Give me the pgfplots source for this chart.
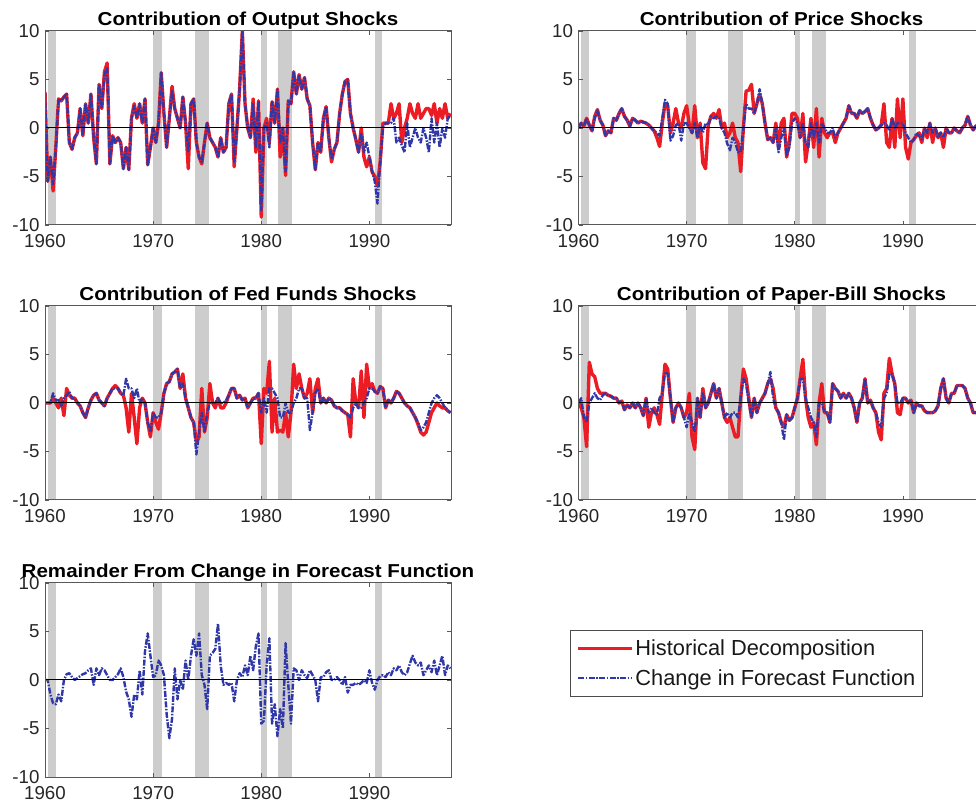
\documentclass[border=0pt]{standalone}
\usepackage{pgfplots}
\pgfplotsset{compat=1.18}
\usepackage{fontspec}
\setmainfont{Liberation Sans}
\newfontfamily\titlefamily{Liberation Sans}[FakeStretch=1.1]
\newcommand\tickfnt{\fontsize{18.7bp}{20bp}\selectfont}
\newcommand\titlefnt{\titlefamily\bfseries\fontsize{18.7bp}{20bp}\selectfont}
\newcommand\legfnt{\fontsize{21.8bp}{24bp}\selectfont}
\definecolor{hred}{RGB}{236,28,36}
\definecolor{fblue}{RGB}{48,56,168}
\definecolor{recess}{RGB}{205,205,205}
\pgfplotsset{
  hist/.style={hred, line width=3.4bp, line join=round},
  fore/.style={fblue, line width=2.4bp, line join=round, dash pattern=on 6bp off 1.5bp on 1.5bp off 1.5bp},
  myaxis/.style={width=406bp, height=194bp, scale only axis,
    xmin=1960, xmax=1997.55, ymin=-10, ymax=10,
    xtick={1960,1970,1980,1990}, xticklabels={1960,1970,1980,1990},
    ytick={-10,-5,0,5,10}, yticklabels={-10,-5,0,5,10},
    tick align=inside, tick pos=both, major tick length=4bp,
    tick style={black!65, line width=0.7bp},
    axis line style={black!65, line width=1bp},
    ticklabel style={font=\tickfnt, text=black!85},
    yticklabel style={xshift=-2bp},
    xticklabel style={yshift=-6bp},
    every axis title shift=0pt,
    title style={font=\titlefnt, at={(0.5,1)}, anchor=base, yshift=5.5bp},
    axis on top},
  rec/.style={fill=recess, draw=none, forget plot},
  zline/.style={black, line width=1bp, forget plot}
}
\newcommand\recessions{%
  \addplot[rec] coordinates {(1960.25,-10)(1961.0,-10)(1961.0,10)(1960.25,10)} -- cycle;
  \addplot[rec] coordinates {(1969.95,-10)(1970.85,-10)(1970.85,10)(1969.95,10)} -- cycle;
  \addplot[rec] coordinates {(1973.85,-10)(1975.2,-10)(1975.2,10)(1973.85,10)} -- cycle;
  \addplot[rec] coordinates {(1980.0,-10)(1980.5,-10)(1980.5,10)(1980.0,10)} -- cycle;
  \addplot[rec] coordinates {(1981.55,-10)(1982.85,-10)(1982.85,10)(1981.55,10)} -- cycle;
  \addplot[rec] coordinates {(1990.55,-10)(1991.2,-10)(1991.2,10)(1990.55,10)} -- cycle;
}
\begin{document}
\begin{tikzpicture}
\path[use as bounding box] (0,0) rectangle (976bp,808bp);
\clip (0,0) rectangle (976bp,808bp);

% Panel 1
\begin{axis}[myaxis, at={(45bp,583bp)}, anchor=south west, title={Contribution of Output Shocks}]
\recessions
\addplot[hist, forget plot] table[x expr=1960+0.25*\coordindex, y index=0, header=false, row sep=\\] {
3.7\\-5.5\\-3.0\\-6.5\\ -2.0\\3.0\\2.8\\3.2\\ 3.5\\-1.5\\-2.2\\-1.0\\ -0.5\\2.0\\-0.8\\2.5\\ 0.5\\3.5\\-1.0\\-3.7\\ 4.5\\2.0\\5.8\\6.7\\ -3.7\\-0.8\\-1.5\\-1.0\\ -1.5\\-4.2\\-2.0\\-4.3\\ 1.0\\2.5\\1.0\\2.5\\ 0.5\\3.0\\-3.8\\-2.0\\ 0.0\\-1.5\\0.5\\5.7\\ 1.5\\-2.0\\1.0\\4.3\\ 2.0\\1.0\\0.0\\3.2\\ 0.5\\-4.2\\2.5\\3.0\\ -1.5\\-3.0\\-3.7\\-1.5\\ 0.5\\-1.0\\-1.5\\-2.0\\ -3.0\\-1.0\\-2.5\\-2.0\\ 2.5\\3.5\\-4.0\\0.0\\ 4.0\\10.0\\2.5\\0.0\\ -1.0\\3.0\\-2.5\\2.8\\ -9.2\\0.0\\1.0\\-1.5\\ 2.7\\0.5\\4.0\\-3.0\\ 0.0\\-4.9\\2.8\\2.5\\ 5.8\\3.5\\5.5\\4.0\\ 5.2\\3.0\\2.3\\-1.5\\ -4.3\\-1.5\\-2.5\\1.0\\ 2.2\\-1.0\\-3.5\\-2.2\\ -1.5\\1.5\\3.5\\4.8\\ 5.0\\1.5\\0.0\\-1.2\\ -2.5\\0.0\\-3.0\\-4.0\\ -3.0\\-4.5\\-5.0\\-6.0\\ -3.5\\0.5\\0.5\\0.5\\ 2.5\\1.0\\1.5\\2.5\\ -1.5\\0.0\\1.0\\2.5\\ 1.5\\1.0\\2.5\\1.0\\ 1.5\\2.0\\2.0\\1.3\\ 2.5\\0.5\\2.0\\1.0\\ 2.5\\1.0\\1.5\\
};
\addplot[fore, forget plot] table[x expr=1960+0.25*\coordindex, y index=0, header=false, row sep=\\] {
3.7\\-5.5\\-3.0\\-5.8\\ -2.0\\3.0\\2.8\\3.2\\ 3.5\\-1.5\\-2.2\\-1.0\\ -0.5\\2.0\\-0.8\\2.5\\ 0.5\\3.5\\-1.0\\-3.7\\ 4.5\\2.0\\5.5\\6.3\\ -3.7\\-0.8\\-1.5\\-1.0\\ -1.5\\-4.2\\-2.0\\-4.3\\ 1.0\\2.3\\1.0\\2.5\\ 0.5\\3.0\\-3.8\\-2.0\\ 0.0\\-1.5\\0.5\\5.7\\ 1.5\\-2.0\\1.0\\3.8\\ 2.0\\1.0\\0.0\\3.2\\ 0.5\\-2.5\\2.5\\3.0\\ -1.5\\-3.0\\-3.5\\-1.5\\ 0.5\\-1.0\\-1.5\\-2.0\\ -3.0\\-1.0\\-2.5\\-2.0\\ 2.5\\3.5\\-3.5\\0.0\\ 4.0\\10.0\\2.5\\0.0\\ -1.0\\2.5\\-2.0\\2.8\\ -8.5\\0.0\\0.5\\-2.0\\ 2.7\\0.5\\4.0\\-1.5\\ 0.0\\-4.5\\2.8\\2.5\\ 5.8\\3.5\\5.5\\4.0\\ 5.2\\3.0\\2.3\\-1.5\\ -4.3\\-1.5\\-2.5\\1.0\\ 2.2\\-1.0\\-3.2\\-2.2\\ -1.5\\1.5\\3.5\\4.8\\ 5.0\\1.5\\0.0\\-1.2\\ -2.5\\-0.5\\-2.5\\-1.5\\ -3.0\\-4.5\\-5.5\\-7.8\\ -3.5\\0.0\\0.5\\0.5\\ 0.5\\1.0\\-1.5\\-1.0\\ -1.8\\-2.5\\0.5\\-2.0\\ -1.0\\0.0\\-1.0\\-1.5\\ 0.0\\-1.0\\-2.5\\1.0\\ -1.5\\0.5\\-2.0\\0.0\\ -1.0\\1.0\\1.3\\
};
\addplot[zline] coordinates {(1960,0)(1997.55,0)};
\end{axis}

% Panel 2
\begin{axis}[myaxis, at={(578.5bp,583bp)}, anchor=south west, title={Contribution of Price Shocks}]
\recessions
\addplot[hist, forget plot] table[x expr=1960+0.25*\coordindex, y index=0, header=false, row sep=\\] {
0.0\\0.5\\0.2\\1.0\\ 0.3\\-0.3\\1.2\\1.9\\ 0.8\\0.3\\-0.8\\-0.3\\ -0.5\\1.0\\0.8\\1.5\\ 2.0\\1.2\\0.8\\0.2\\ 1.0\\0.8\\0.5\\0.7\\ 0.6\\0.5\\0.3\\0.0\\ -0.3\\-1.0\\-1.9\\0.5\\ 2.5\\2.3\\-0.5\\0.5\\ 2.0\\0.5\\0.0\\1.5\\ 2.3\\0.3\\-0.5\\2.3\\ -1.0\\0.5\\-3.6\\-4.2\\ 0.3\\1.2\\1.5\\1.0\\ 1.9\\0.0\\0.5\\-1.0\\ -0.5\\0.5\\-1.0\\-1.5\\ -4.5\\0.0\\3.8\\3.9\\ 4.5\\1.5\\2.5\\3.5\\ 2.5\\0.5\\-1.2\\-1.0\\ -1.5\\0.5\\-2.0\\0.5\\ 1.0\\-3.0\\-1.5\\1.5\\ 1.5\\1.0\\-1.0\\1.5\\ -3.5\\-1.5\\1.0\\-2.0\\ 2.0\\-3.0\\1.0\\-0.5\\ -1.0\\-0.5\\-0.5\\-1.5\\ -0.5\\0.0\\0.5\\1.0\\ 2.3\\1.5\\1.5\\1.0\\ 1.8\\1.5\\1.7\\2.0\\ 1.0\\0.3\\-0.2\\0.0\\ 0.3\\2.5\\-1.5\\-2.0\\ 1.0\\-2.0\\3.0\\-1.0\\ 3.0\\-2.0\\-3.2\\-1.5\\ -1.2\\-0.8\\-0.5\\-1.5\\ 0.0\\-1.0\\0.5\\-1.5\\ 0.0\\-1.0\\-0.5\\-2.0\\ 0.0\\-0.5\\-0.5\\0.0\\ -0.3\\-0.5\\0.0\\0.3\\ 1.2\\0.3\\-0.2\\0.2\\ 0.3\\0.5\\0.3\\
};
\addplot[fore, forget plot] table[x expr=1960+0.25*\coordindex, y index=0, header=false, row sep=\\] {
0.0\\0.5\\0.2\\1.0\\ 0.3\\-0.3\\1.0\\1.8\\ 0.8\\0.3\\-0.8\\-0.3\\ -0.5\\1.0\\0.8\\1.5\\ 2.0\\1.2\\0.8\\0.2\\ 1.0\\0.8\\0.5\\0.7\\ 0.6\\0.5\\0.3\\0.0\\ -0.3\\-0.5\\-0.8\\1.0\\ 2.9\\2.5\\-1.3\\-0.8\\ 0.3\\0.5\\-1.3\\0.5\\ 0.5\\0.0\\-0.5\\0.5\\ -1.0\\0.3\\-0.5\\0.5\\ 0.3\\1.2\\1.0\\1.2\\ 1.0\\0.0\\-0.5\\-1.6\\ -2.3\\-1.0\\-1.5\\-2.5\\ -2.5\\0.0\\2.5\\2.0\\ 2.0\\1.5\\2.5\\4.0\\ 2.5\\0.5\\-1.2\\-1.0\\ -1.5\\0.0\\-2.5\\-1.0\\ 0.0\\-2.8\\-2.0\\0.5\\ 1.0\\0.5\\-1.0\\0.5\\ -1.5\\-2.0\\0.5\\-1.0\\ 0.5\\-1.5\\0.5\\0.0\\ -0.5\\-0.5\\0.0\\-1.0\\ -0.5\\0.0\\0.5\\1.0\\ 2.3\\1.5\\1.5\\1.0\\ 1.8\\1.5\\1.7\\2.0\\ 1.0\\0.3\\-0.2\\0.0\\ 0.3\\0.5\\0.3\\-0.3\\ 1.0\\0.0\\0.5\\0.5\\ 0.5\\-0.5\\-1.0\\-1.5\\ -1.2\\-0.5\\-0.8\\-1.2\\ 0.0\\-0.5\\0.5\\-0.5\\ 0.0\\-1.0\\-0.5\\-1.0\\ 0.0\\-0.5\\-0.5\\0.0\\ -0.3\\-0.5\\0.0\\0.3\\ 1.2\\0.3\\-0.2\\0.2\\ 0.3\\0.5\\0.3\\
};
\addplot[zline] coordinates {(1960,0)(1997.55,0)};
\end{axis}

% Panel 3
\begin{axis}[myaxis, at={(45bp,308bp)}, anchor=south west, title={Contribution of Fed Funds Shocks}]
\recessions
\addplot[hist, forget plot] table[x expr=1960+0.25*\coordindex, y index=0, header=false, row sep=\\] {
0.0\\0.0\\0.0\\0.5\\ 0.0\\-0.5\\0.5\\-1.3\\ 1.5\\0.8\\0.5\\0.5\\ 0.0\\-0.3\\-1.0\\-1.5\\ -0.5\\0.3\\0.8\\1.0\\ 0.3\\0.0\\-0.3\\0.5\\ 1.0\\1.5\\1.8\\1.5\\ 1.0\\0.8\\-0.5\\-3.0\\ 1.0\\-1.5\\-4.2\\-0.5\\ 0.5\\0.0\\-2.0\\-3.5\\ -1.0\\-2.0\\-2.7\\-1.0\\ 1.0\\2.0\\2.2\\3.0\\ 3.2\\3.5\\1.5\\3.0\\ 0.5\\-0.5\\-1.5\\-2.0\\ -4.0\\-3.5\\1.5\\-3.0\\ -1.5\\2.0\\0.0\\-0.5\\ 0.5\\-0.5\\-0.5\\0.0\\ 0.8\\1.5\\1.5\\0.5\\ 0.8\\0.3\\0.5\\-0.5\\ 0.0\\0.5\\0.5\\1.0\\ -4.2\\1.5\\1.0\\4.3\\ -3.0\\0.5\\-3.0\\-2.8\\ -3.0\\-1.0\\-3.5\\-1.0\\ 4.0\\1.5\\3.0\\1.5\\ 0.5\\1.0\\2.5\\-1.0\\ 1.5\\2.5\\0.0\\0.5\\ 0.0\\0.5\\0.3\\-0.3\\ -0.5\\-0.5\\-0.8\\-1.0\\ -1.2\\-3.5\\2.5\\0.0\\ -0.5\\3.3\\-1.5\\4.0\\ 1.5\\2.0\\1.2\\1.0\\ 1.7\\1.5\\-0.5\\0.3\\ 0.0\\0.5\\1.2\\1.0\\ 0.5\\0.0\\-0.3\\-0.5\\ -1.0\\-1.5\\-2.2\\-3.0\\ -3.3\\-3.0\\-2.0\\-1.0\\ -0.5\\0.0\\-0.3\\-0.5\\ -0.5\\-0.8\\-1.0\\
};
\addplot[fore, forget plot] table[x expr=1960+0.25*\coordindex, y index=0, header=false, row sep=\\] {
0.0\\0.0\\0.0\\1.0\\ 0.3\\0.3\\-0.3\\0.5\\ 0.8\\1.2\\0.5\\0.5\\ 0.0\\-0.3\\-1.0\\-1.5\\ -0.5\\0.3\\0.8\\1.0\\ 0.3\\0.0\\-0.3\\0.5\\ 1.0\\1.5\\1.5\\1.5\\ 1.0\\0.8\\2.5\\1.5\\ 1.5\\0.5\\1.5\\0.0\\ 0.5\\0.0\\-2.0\\-3.0\\ -1.0\\-1.5\\-1.5\\-1.0\\ 1.0\\2.0\\2.2\\3.0\\ 3.2\\3.5\\1.5\\2.0\\ 0.5\\-0.5\\-1.5\\-2.0\\ -5.3\\-3.0\\-1.0\\-3.0\\ -1.0\\0.0\\0.0\\0.0\\ 0.5\\0.0\\0.0\\0.3\\ 0.8\\1.5\\1.5\\0.5\\ 0.8\\0.3\\0.5\\-0.5\\ 0.0\\0.5\\0.5\\1.0\\ -1.0\\0.5\\-1.0\\1.5\\ 1.5\\1.0\\0.5\\-1.5\\ -1.5\\0.0\\-1.0\\-1.0\\ 0.0\\0.5\\1.5\\1.5\\ 0.5\\0.5\\-2.8\\-1.0\\ 1.0\\1.5\\0.0\\0.5\\ 0.0\\0.5\\0.3\\-0.3\\ -0.5\\-0.5\\-0.8\\-1.0\\ -1.2\\-1.5\\-0.5\\0.0\\ -0.5\\-0.5\\0.0\\0.5\\ 1.5\\1.5\\1.2\\1.0\\ 1.7\\1.5\\-0.5\\0.3\\ 0.0\\0.5\\1.2\\1.0\\ 0.5\\0.0\\-0.3\\-0.5\\ -1.0\\-1.5\\-2.0\\-2.8\\ -2.5\\-2.0\\-1.0\\0.0\\ 0.5\\0.8\\0.5\\0.0\\ -0.5\\-0.8\\-1.0\\
};
\addplot[zline] coordinates {(1960,0)(1997.55,0)};
\end{axis}

% Panel 4
\begin{axis}[myaxis, at={(578.5bp,308bp)}, anchor=south west, title={Contribution of Paper-Bill Shocks}]
\recessions
\addplot[hist, forget plot] table[x expr=1960+0.25*\coordindex, y index=0, header=false, row sep=\\] {
0.0\\-0.5\\-1.5\\-4.5\\ 4.2\\3.0\\2.7\\1.5\\ 1.0\\1.0\\1.0\\0.8\\ 0.7\\0.5\\0.5\\0.0\\ 0.2\\-0.7\\-0.2\\-0.5\\ 0.0\\-0.5\\0.0\\-0.5\\ -1.3\\0.5\\-2.5\\-1.0\\ -0.5\\-1.2\\-2.2\\1.0\\ 4.0\\3.5\\0.5\\-2.0\\ -0.5\\0.0\\-0.5\\-1.5\\ -1.0\\1.0\\-3.5\\-4.8\\ 0.5\\-1.5\\1.5\\-0.5\\ 0.0\\1.0\\2.0\\0.5\\ 1.5\\0.0\\-1.5\\-2.0\\ -1.5\\-2.5\\-3.5\\-3.5\\ 0.5\\3.5\\2.5\\0.5\\ -1.5\\0.5\\-1.0\\0.0\\ 0.5\\1.0\\2.0\\2.5\\ 1.5\\-0.5\\-1.0\\-2.0\\ -2.5\\-1.2\\-1.8\\-1.5\\ -0.5\\0.5\\2.5\\4.5\\ 0.5\\-1.5\\-2.5\\-2.0\\ -4.3\\0.0\\2.0\\-1.0\\ -1.0\\-2.0\\2.0\\1.5\\ 1.2\\0.5\\1.0\\0.5\\ 1.0\\0.5\\-0.5\\-2.0\\ 0.0\\0.5\\2.5\\0.0\\ 0.3\\-0.5\\-1.0\\-3.0\\ -3.8\\1.0\\1.5\\4.6\\ 3.0\\2.0\\-1.0\\-1.2\\ 0.5\\0.5\\0.0\\0.3\\ -1.0\\0.0\\-0.3\\-0.3\\ -0.8\\-1.0\\-1.0\\-1.0\\ -0.8\\-0.3\\1.5\\2.5\\ 0.5\\0.0\\1.0\\1.0\\ 1.8\\1.8\\1.8\\1.5\\ 0.5\\0.0\\-1.0\\-1.0\\ -1.0\\-1.2\\-1.0\\
};
\addplot[fore, forget plot] table[x expr=1960+0.25*\coordindex, y index=0, header=false, row sep=\\] {
0.0\\0.5\\-1.5\\-2.0\\ 0.0\\0.5\\1.0\\0.5\\ 0.3\\0.8\\1.0\\0.7\\ 0.7\\0.5\\0.5\\0.0\\ 0.2\\-0.7\\-0.2\\-0.5\\ 0.0\\-0.5\\0.0\\-0.5\\ -1.3\\0.5\\-1.0\\-0.5\\ -1.0\\-1.2\\0.5\\1.0\\ 3.2\\3.0\\0.5\\-2.0\\ -0.5\\0.0\\-0.5\\-1.5\\ -2.5\\-1.0\\-2.0\\-3.0\\ 0.5\\-1.5\\1.0\\-0.5\\ 0.0\\1.0\\2.0\\0.5\\ 1.5\\0.0\\-1.5\\-1.0\\ -1.5\\-1.0\\-1.0\\-1.5\\ 0.5\\2.5\\2.0\\0.0\\ -1.5\\0.5\\-1.0\\0.0\\ 0.5\\1.0\\2.0\\3.2\\ 0.5\\-0.5\\-1.0\\-2.0\\ -3.8\\-1.2\\-1.8\\-1.5\\ -0.5\\0.5\\2.5\\2.5\\ 0.5\\-0.5\\-1.5\\-2.0\\ -3.5\\0.0\\0.0\\-1.0\\ -1.0\\-2.0\\2.0\\1.5\\ 1.2\\0.5\\1.0\\0.5\\ 1.0\\0.5\\-0.5\\-2.0\\ 0.0\\0.5\\2.5\\0.0\\ 0.3\\-0.5\\-1.0\\-2.0\\ -2.5\\0.5\\1.0\\3.0\\ 3.0\\2.0\\0.0\\0.0\\ 0.5\\0.5\\0.0\\0.3\\ -1.0\\0.0\\-0.3\\-0.3\\ -0.8\\-1.0\\-1.0\\-1.0\\ -0.8\\-0.3\\1.5\\2.5\\ 0.5\\0.0\\1.0\\1.0\\ 1.8\\1.8\\1.8\\1.5\\ 0.5\\0.0\\-1.0\\-1.0\\ -1.0\\-1.2\\-1.0\\
};
\addplot[zline] coordinates {(1960,0)(1997.55,0)};
\end{axis}

% Panel 5
\begin{axis}[myaxis, at={(45bp,31bp)}, anchor=south west, title={Remainder From Change in Forecast Function},
  legend style={at={(1.2931,0.7577)}, anchor=north west, draw=black!70, line width=1bp,
    font=\legfnt, text=black!90, inner xsep=6bp, inner ysep=8bp, row sep=9bp,
    nodes={inner sep=1.5bp}},
  legend cell align=left,
  legend image code/.code={\draw[#1] (0bp,0bp) -- (54bp,0bp);}]
\addlegendimage{hist}
\addlegendentry{Historical Decomposition}
\recessions
\addplot[fore] table[x expr=1960+0.25*\coordindex, y index=0, header=false, row sep=\\] {
0.0\\0.0\\-1.5\\-2.4\\ -2.5\\-1.5\\-2.2\\0.0\\ 0.6\\0.7\\0.3\\0.0\\ 0.2\\0.4\\0.6\\0.7\\ 1.0\\1.2\\-0.5\\1.2\\ 0.5\\1.2\\1.0\\0.5\\ 0.0\\0.0\\0.3\\0.6\\ 1.2\\0.3\\-1.2\\-2.0\\ -3.8\\-1.5\\-2.0\\1.0\\ -1.5\\3.0\\4.8\\2.5\\ 0.3\\0.5\\2.0\\1.5\\ 0.5\\-3.5\\-6.0\\-4.0\\ 1.2\\-2.0\\0.0\\-1.0\\ 2.0\\0.0\\2.5\\4.2\\ 2.5\\4.8\\0.5\\-0.5\\ -3.0\\2.5\\2.8\\3.2\\ 5.8\\1.5\\-0.5\\-0.3\\ -0.5\\-0.3\\-2.2\\0.0\\ 0.7\\0.3\\1.5\\0.5\\ 2.5\\1.0\\3.5\\4.8\\ -4.5\\-4.2\\1.5\\4.3\\ -4.5\\-2.5\\-5.8\\-3.0\\ -5.0\\3.8\\-0.5\\-4.5\\ 1.2\\1.0\\0.0\\1.0\\ 0.5\\0.2\\1.0\\0.5\\ 0.0\\-2.2\\0.3\\0.3\\ 0.8\\1.0\\0.0\\0.0\\ 0.3\\0.0\\-0.5\\0.3\\ -1.3\\-0.5\\-0.5\\-0.3\\ -0.5\\-0.3\\0.0\\-0.3\\ 1.0\\-0.3\\-1.0\\0.0\\ 0.4\\0.5\\0.3\\0.8\\ 0.5\\1.2\\1.0\\1.5\\ 0.8\\0.5\\0.8\\1.7\\ 2.5\\1.8\\1.5\\1.8\\ 0.5\\1.0\\1.5\\0.8\\ 2.0\\0.5\\1.5\\2.5\\ 0.5\\1.5\\1.2\\
};
\addlegendentry{Change in Forecast Function}
\addplot[zline] coordinates {(1960,0)(1997.55,0)};
\end{axis}
\end{tikzpicture}
\end{document}
